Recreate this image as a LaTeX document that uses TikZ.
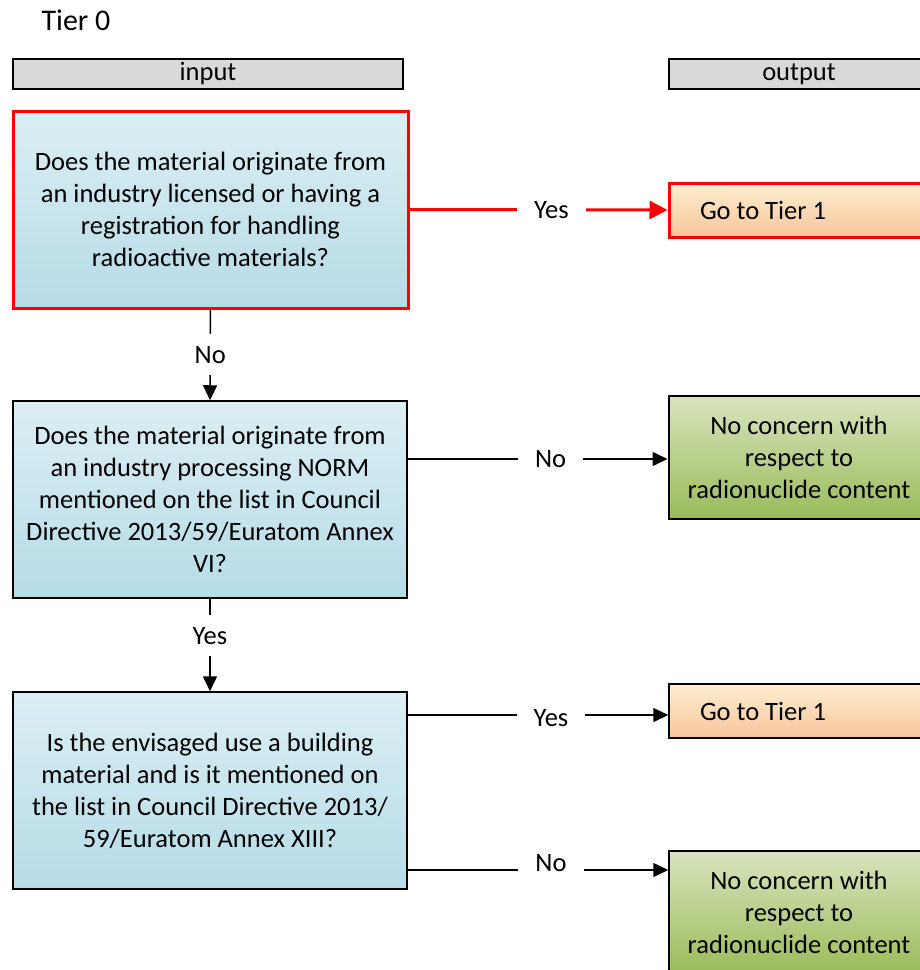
\documentclass[tikz,border=0pt]{standalone}
\usepackage{fontspec}
\setmainfont{Carlito}
\usetikzlibrary{arrows.meta}
\definecolor{hdrgray}{HTML}{D9D9D9}
\definecolor{bluetop}{HTML}{DCEEF4}
\definecolor{bluebot}{HTML}{B6DCE6}
\definecolor{orgtop}{HTML}{FDEFCF}
\definecolor{orgbot}{HTML}{F7C59B}
\definecolor{grntop}{HTML}{D8E4BE}
\definecolor{grnbot}{HTML}{9BBB59}
\definecolor{hired}{HTML}{FF0000}
\tikzset{
  basefont/.style={font=\fontsize{26.5}{32}\selectfont},
  hdr/.style={draw=black, line width=1.5pt, fill=hdrgray, minimum height=30pt, inner sep=0pt, basefont},
  qbox/.style={draw=black, line width=1.5pt, top color=bluetop, bottom color=bluebot, minimum width=394pt, minimum height=197pt, align=center, inner sep=0pt, basefont},
  tierbox/.style={draw=black, line width=1.5pt, top color=orgtop, bottom color=orgbot, minimum width=260pt, minimum height=54pt, inner xsep=31pt, inner ysep=0pt, basefont},
  okbox/.style={draw=black, line width=1.5pt, top color=grntop, bottom color=grnbot, minimum width=260pt, minimum height=123pt, align=center, inner sep=0pt, basefont},
  hot/.style={draw=hired, line width=3pt},
  conn/.style={draw=black, line width=1.5pt, -{Triangle[length=15pt,width=14pt]}},
  hotconn/.style={draw=hired, line width=3pt, -{Triangle[length=18pt,width=18pt]}},
  lbl/.style={fill=white, inner xsep=17pt, inner ysep=12pt, basefont, text=black},
}
\begin{document}
\begin{tikzpicture}[x=1pt, y=-1pt]
\useasboundingbox (0,0) rectangle (920,970);
\clip (0,0) rectangle (920,970);

\node[anchor=base west, font=\fontsize{30}{36}\selectfont] (tier) at (38,30) {Tier 0};

\node[hdr, minimum width=390pt] (hin) at (208,74) {input};
\node[hdr, minimum width=260pt] (hout) at (799,74) {output};

\node[qbox, hot, minimum width=395pt] (q1) at (210.5,209.5) {Does the material originate from\\an industry licensed or having a\\registration for handling\\radioactive materials?};
\node[qbox] (q2) at (210,499.5) {Does the material originate from\\an industry processing NORM\\mentioned on the list in Council\\Directive 2013/59/Euratom Annex\\VI?};
\node[qbox] (q3) at (210,790.5) {Is the envisaged use a building\\material and is it mentioned on\\the list in Council Directive 2013/\\59/Euratom Annex XIII?};

\node[tierbox, hot] (t1) at (799,210) {\makebox[198pt][l]{Go to Tier 1}};
\node[okbox] (ok1) at (799,457.5) {No concern with\\respect to\\radionuclide content};
\node[tierbox] (t2) at (799,711) {\makebox[198pt][l]{Go to Tier 1}};
\node[okbox] (ok2) at (799,912.5) {No concern with\\respect to\\radionuclide content};

\coordinate (y2) at (0,459);
\coordinate (y3a) at (0,715);
\coordinate (y3b) at (0,870);

\draw[hotconn] (q1.east) -- node[lbl, pos=0.55] {Yes} (t1.west);
\draw[conn] (q1.south) -- node[lbl, pos=0.5] {No} (q2.north);
\draw[conn] (q2.east |- y2) -- node[lbl, pos=0.55] {No} (t1.west |- y2);
\draw[conn] (q2.south) -- node[lbl, pos=0.4] {Yes} (q3.north);
\draw[conn] (q3.east |- y3a) -- node[lbl, pos=0.55, yshift=-3pt] {Yes} (t2.west |- y3a);
\draw[conn] (q3.east |- y3b) -- node[lbl, pos=0.55, yshift=7pt] {No} (ok2.west |- y3b);
\end{tikzpicture}
\end{document}
